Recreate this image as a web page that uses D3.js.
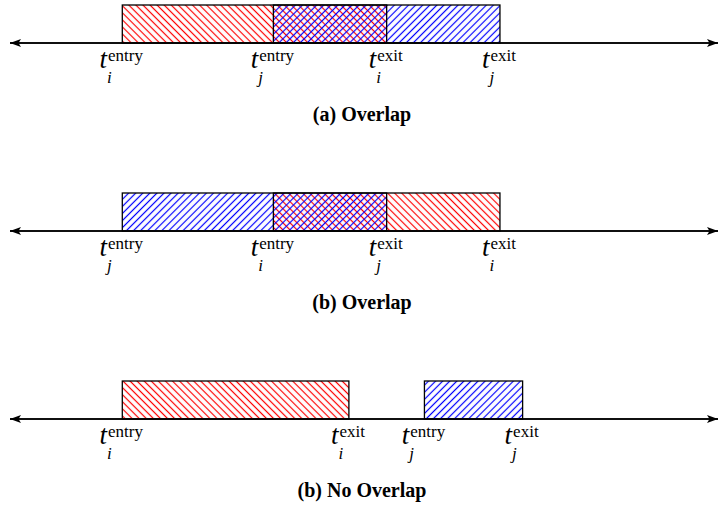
<!DOCTYPE html>
<html>
<head>
<meta charset="utf-8">
<script src="https://cdn.jsdelivr.net/npm/d3@7"></script>
<style>
  html, body { margin: 0; padding: 0; background: #fff; }
  svg { display: block; }
  text { font-family: "Liberation Serif", "DejaVu Serif", serif; }
</style>
</head>
<body>
<svg id="chart" width="719" height="510"></svg>
<script>
// ---- data ----
const captions = ["(a) Overlap", "(b) Overlap", "(b) No Overlap"];
const iEntry = [1, 3, 1];
const iExit  = [4.5, 6, 4];
const jEntry = [3, 1, 5];
const jExit  = [6, 4.5, 6.3];
const timeDomain = [-0.5, 8.9];

// ---- layout ----
const svg = d3.select("#chart");
const x = d3.scaleLinear().domain(timeDomain).range([9, 719]);
const axisY = [43, 231, 419];
const barH = 38;
const captionY = [121, 309, 497];

const defs = svg.append("defs");
function hatch(id, color, angle) {
  const p = defs.append("pattern")
    .attr("id", id)
    .attr("patternUnits", "userSpaceOnUse")
    .attr("width", 5).attr("height", 5)
    .attr("patternTransform", `rotate(${angle})`);
  p.append("line")
    .attr("x1", 2.5).attr("y1", -1).attr("x2", 2.5).attr("y2", 6)
    .attr("stroke", color).attr("stroke-width", 1.2);
}
hatch("hatchRed", "#ff0000", -45);
hatch("hatchBlue", "#0000ff", 45);

defs.append("marker")
  .attr("id", "arrowEnd").attr("viewBox", "0 0 11 8")
  .attr("refX", 11).attr("refY", 4)
  .attr("markerWidth", 11).attr("markerHeight", 8)
  .attr("markerUnits", "userSpaceOnUse")
  .attr("orient", "auto-start-reverse")
  .append("path").attr("d", "M0,0 L11,4 L0,8 L2.5,4 Z").attr("fill", "#000");

function measure(str, size, italic) {
  const tmp = svg.append("text").attr("font-size", size)
    .attr("font-style", italic ? "italic" : "normal").text(str);
  const w = tmp.node().getComputedTextLength();
  tmp.remove();
  return w;
}

function label(g, xPos, y0, sub, sup) {
  const tw = measure("t", 27, true);
  const sw = measure(sup, 17, false);
  const total = tw + 1 + sw;
  const left = xPos - 1 - total / 2;
  const txt = g.append("text")
    .attr("x", left).attr("y", y0 + 25).attr("fill", "#000");
  txt.append("tspan").attr("font-style", "italic").attr("font-size", 27).text("t");
  txt.append("tspan").attr("font-size", 17).attr("dx", 1).attr("dy", -7).text(sup);
  txt.append("tspan").attr("font-style", "italic").attr("font-size", 17)
    .attr("x", left + tw).attr("y", y0 + 40).text(sub);
}

captions.forEach((cap, k) => {
  const g = svg.append("g");
  const y0 = axisY[k];

  g.append("line")
    .attr("x1", 10).attr("x2", 718)
    .attr("y1", y0).attr("y2", y0)
    .attr("stroke", "#000").attr("stroke-width", 1.6)
    .attr("marker-start", "url(#arrowEnd)")
    .attr("marker-end", "url(#arrowEnd)");

  const intervals = [
    { s: iEntry[k], e: iExit[k], fill: "url(#hatchRed)", sub: "i" },
    { s: jEntry[k], e: jExit[k], fill: "url(#hatchBlue)", sub: "j" }
  ];
  intervals.forEach(d => {
    g.append("rect")
      .attr("x", x(d.s)).attr("y", y0 - barH)
      .attr("width", x(d.e) - x(d.s)).attr("height", barH)
      .attr("fill", d.fill);
  });
  intervals.forEach(d => {
    g.append("rect")
      .attr("x", x(d.s)).attr("y", y0 - barH)
      .attr("width", x(d.e) - x(d.s)).attr("height", barH)
      .attr("fill", "none").attr("stroke", "#000").attr("stroke-width", 1.3);
  });
  g.append("line")
    .attr("x1", 10).attr("x2", 718)
    .attr("y1", y0).attr("y2", y0)
    .attr("stroke", "#000").attr("stroke-width", 1.6);

  intervals.forEach(d => {
    label(g, x(d.s), y0, d.sub, "entry");
    label(g, x(d.e), y0, d.sub, "exit");
  });

  g.append("text")
    .attr("x", 362).attr("y", captionY[k])
    .attr("text-anchor", "middle")
    .attr("font-weight", "bold").attr("font-size", 20)
    .text(cap);
});
</script>
</body>
</html>
